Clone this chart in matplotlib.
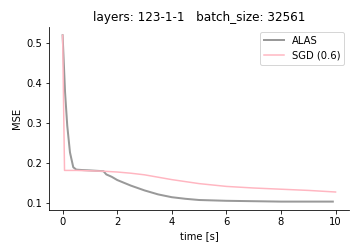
import matplotlib
matplotlib.use("Agg")
import matplotlib.pyplot as plt

alas_t = [0.0, 0.09, 0.17, 0.27, 0.39, 0.5, 0.7, 1.0, 1.5, 1.6, 1.8, 2.0, 2.5, 3.0, 3.5, 4.0, 4.5, 5.0, 6.0, 7.0, 8.0, 9.0, 9.9]
alas_mse = [0.52, 0.377, 0.294, 0.227, 0.19, 0.184, 0.183, 0.182, 0.180, 0.172, 0.166, 0.158, 0.144, 0.132, 0.122, 0.115, 0.111, 0.108, 0.106, 0.105, 0.104, 0.104, 0.104]

sgd_t = [0.0, 0.07, 0.5, 1.0, 1.5, 2.0, 2.5, 3.0, 3.5, 4.0, 4.5, 5.0, 6.0, 7.0, 8.0, 9.0, 10.0]
sgd_mse = [0.52, 0.182, 0.182, 0.181, 0.180, 0.178, 0.175, 0.171, 0.165, 0.159, 0.154, 0.149, 0.142, 0.138, 0.135, 0.132, 0.128]

fig, ax = plt.subplots(figsize=(5, 3.5), dpi=72)
ax.plot(alas_t, alas_mse, color="gray", alpha=0.8, lw=2, label="ALAS")
ax.plot(sgd_t, sgd_mse, color="lightpink", lw=1.5, label="SGD (0.6)")
ax.set_xlabel("time [s]")
ax.set_ylabel("MSE")
ax.set_title("layers: 123-1-1   batch_size: 32561")
ax.set_yticks([0.1, 0.2, 0.3, 0.4, 0.5])
ax.spines["top"].set_visible(False)
ax.spines["right"].set_visible(False)
ax.legend(loc="upper right")
fig.subplots_adjust(left=0.136, right=0.97, bottom=0.167, top=0.893)
fig.savefig("out.png", dpi=72)
